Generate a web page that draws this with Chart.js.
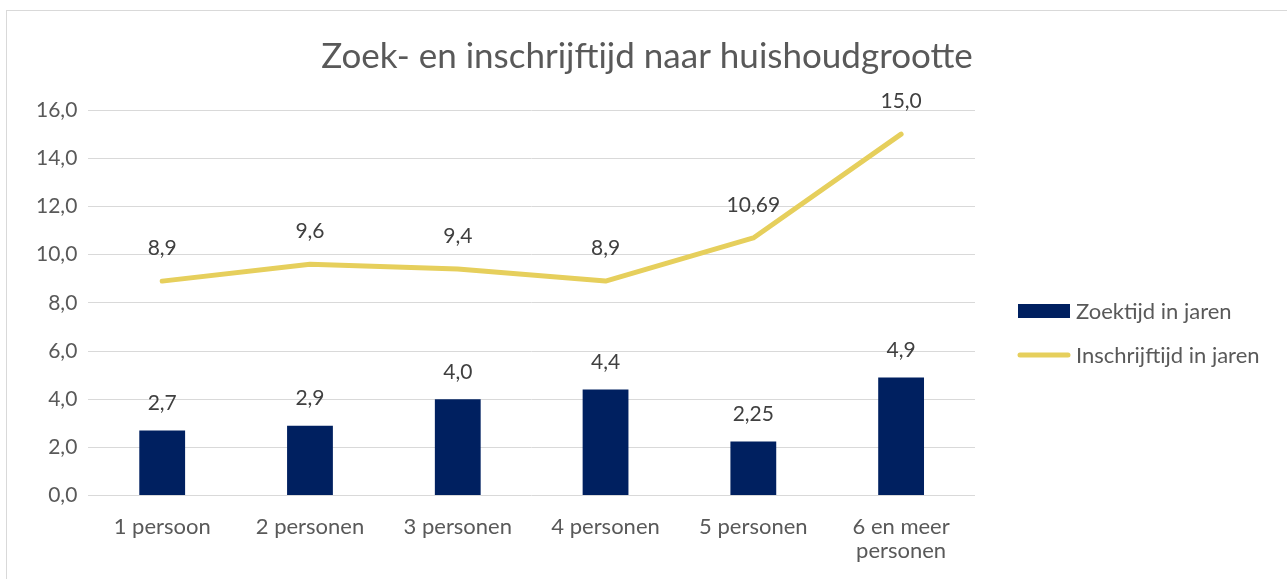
<!DOCTYPE html>
<html>
<head>
<meta charset="utf-8">
<script src="https://cdn.jsdelivr.net/npm/chart.js@4"></script>
<style>
    html, body { margin: 0; padding: 0; background: #ffffff; overflow: hidden; }
    #wrap { position: relative; width: 1287px; height: 579px; }
</style>
</head>
<body>
<div id="wrap"><canvas id="chart" width="1287" height="579"></canvas></div>
<script>
// Gegevens
const categories = ['1 persoon', '2 personen', '3 personen', '4 personen', '5 personen', ['6 en meer', 'personen']];
const zoektijd = [2.7, 2.9, 4.0, 4.4, 2.25, 4.9];
const inschrijftijd = [8.9, 9.6, 9.4, 8.9, 10.69, 15.0];
const yTicks = [0, 2, 4, 6, 8, 10, 12, 14, 16];
const chartTitle = 'Zoek- en inschrijftijd naar huishoudgrootte';

const fontFamily = 'Lato, "Open Sans", sans-serif';
const navy = '#002060';
const yellow = '#E6CF5C';
const textGrey = '#595959';

// Getal in Nederlandse notatie (komma)
function fmt(v) {
    const s = Number.isInteger(Math.round(v * 100) / 10) ? v.toFixed(1) : v.toFixed(2);
    return s.replace('.', ',');
}

// Kader en titel
const framePlugin = {
    id: 'frame',
    beforeDraw(chart) {
        const ctx = chart.ctx;
        ctx.save();
        ctx.strokeStyle = '#d9d9d9';
        ctx.lineWidth = 1;
        ctx.strokeRect(6.5, 10.5, 1300, 600);
        ctx.font = '35px ' + fontFamily;
        ctx.fillStyle = textGrey;
        ctx.textAlign = 'center';
        ctx.textBaseline = 'middle';
        ctx.fillText(chartTitle, 647, 57);
        ctx.restore();
    }
};

// Waardelabels boven balken en punten
const labelPlugin = {
    id: 'valueLabels',
    afterDatasetsDraw(chart) {
        const ctx = chart.ctx;
        ctx.save();
        ctx.font = '21px ' + fontFamily;
        ctx.fillStyle = '#404040';
        ctx.textAlign = 'center';
        ctx.textBaseline = 'middle';
        chart.data.datasets.forEach((ds, i) => {
            const meta = chart.getDatasetMeta(i);
            const off = ds.type === 'line' ? 33 : 27;
            meta.data.forEach((el, j) => {
                ctx.fillText(fmt(ds.data[j]), el.x, el.y - off);
            });
        });
        ctx.restore();
    }
};

// Legenda rechts
const legendPlugin = {
    id: 'sideLegend',
    afterDraw(chart) {
        const ctx = chart.ctx;
        const x = 1018;
        ctx.save();
        ctx.font = '22px ' + fontFamily;
        ctx.textBaseline = 'middle';
        chart.data.datasets.forEach((ds, i) => {
            const y = 311 + i * 44;
            if (ds.type === 'bar') {
                ctx.fillStyle = ds.backgroundColor;
                ctx.fillRect(x, y - 7, 52, 14);
            } else {
                ctx.strokeStyle = ds.borderColor;
                ctx.lineWidth = 5;
                ctx.lineCap = 'round';
                ctx.beginPath();
                ctx.moveTo(x + 2, y);
                ctx.lineTo(x + 50, y);
                ctx.stroke();
            }
            ctx.fillStyle = textGrey;
            ctx.fillText(ds.label, x + 58, y + 1);
        });
        ctx.restore();
    }
};

new Chart(document.getElementById('chart'), {
    data: {
        labels: categories,
        datasets: [
            {
                type: 'bar',
                label: 'Zoektijd in jaren',
                data: zoektijd,
                backgroundColor: navy,
                borderWidth: 0,
                categoryPercentage: 1,
                barPercentage: 0.31
            },
            {
                type: 'line',
                label: 'Inschrijftijd in jaren',
                data: inschrijftijd,
                borderColor: yellow,
                backgroundColor: yellow,
                borderWidth: 5,
                borderCapStyle: 'round',
                borderJoinStyle: 'round',
                pointRadius: 0,
                tension: 0
            }
        ]
    },
    options: {
        responsive: false,
        animation: false,
        layout: { padding: { left: 25, right: 312, top: 110, bottom: 5 } },
        plugins: {
            title: { display: false },
            legend: { display: false },
            tooltip: { enabled: false }
        },
        scales: {
            x: {
                grid: { display: false },
                border: { display: false },
                ticks: {
                    color: textGrey,
                    font: { family: fontFamily, size: 22, lineHeight: 1.1 },
                    padding: 11,
                    maxRotation: 0,
                    autoSkip: false
                }
            },
            y: {
                min: 0,
                max: 16,
                afterBuildTicks(axis) {
                    axis.ticks = yTicks.map(v => ({ value: v }));
                },
                grid: { color: '#d9d9d9', lineWidth: 1, drawTicks: false },
                border: { display: false },
                ticks: {
                    color: textGrey,
                    font: { family: fontFamily, size: 21 },
                    padding: 11,
                    callback: v => v.toFixed(1).replace('.', ',')
                }
            }
        }
    },
    plugins: [framePlugin, labelPlugin, legendPlugin]
});
</script>
</body>
</html>
